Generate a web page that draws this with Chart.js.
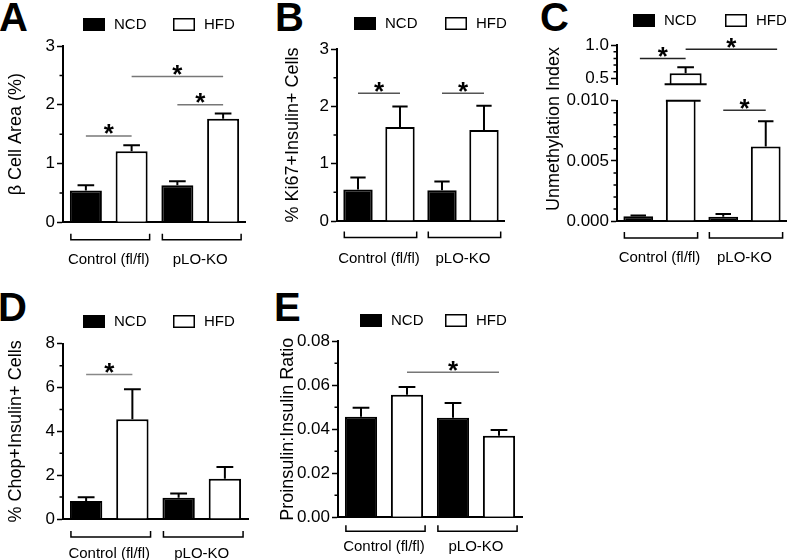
<!DOCTYPE html>
<html>
<head>
<meta charset="utf-8">
<script src="https://cdn.jsdelivr.net/npm/chart.js@4.4.1/dist/chart.umd.min.js"></script>
<style>
  body { margin: 0; background: #fff; width: 800px; height: 560px; position: relative; overflow: hidden; }
  canvas { position: absolute; }
  .letter { position: absolute; font: bold 40px "Liberation Sans", Arial, sans-serif; line-height: 1; color: #000; }
</style>
</head>
<body>
<div class="letter" style="left:-1px;top:-3px">A</div>
<div class="letter" style="left:275px;top:-3px">B</div>
<div class="letter" style="left:540px;top:-3px">C</div>
<div class="letter" style="left:-2px;top:287px">D</div>
<div class="letter" style="left:274px;top:287px">E</div>

<canvas id="chartA" width="260" height="280" style="left:0;top:0"></canvas>
<canvas id="chartB" width="260" height="280" style="left:260px;top:0"></canvas>
<canvas id="chartC" width="280" height="280" style="left:520px;top:0"></canvas>
<canvas id="chartCtop" width="280" height="130" style="left:520px;top:0"></canvas>
<canvas id="chartD" width="260" height="280" style="left:0;top:280px"></canvas>
<canvas id="chartE" width="280" height="280" style="left:260px;top:280px"></canvas>

<script>
const FONT = '"Liberation Sans", Arial, sans-serif';
Chart.defaults.font.family = FONT;
Chart.defaults.color = '#000';

const groups = ['Control (fl/fl)', 'pLO-KO'];
const seriesNames = ['NCD', 'HFD'];

// A - beta cell area (%)
const betaNCD = [0.54, 0.63];
const betaNCDsem = [0.09, 0.07];
const betaHFD = [1.21, 1.76];
const betaHFDsem = [0.10, 0.09];
const betaTicks = [0, 1, 2, 3];
const betaSig = [[0, 1, 1.47], [2, 3, 2.0], [1, 3, 2.48]];

// B - Ki67+ insulin+ cells (%)
const ki67NCD = [0.55, 0.535];
const ki67NCDsem = [0.21, 0.155];
const ki67HFD = [1.64, 1.59];
const ki67HFDsem = [0.36, 0.42];
const ki67Ticks = [0, 1, 2, 3];
const ki67Sig = [[0, 1, 2.23], [2, 3, 2.23]];

// C - unmethylation index (broken axis)
const unmethNCD = [0.0004, 0.00036];
const unmethNCDsem = [0.00005, 0.00022];
const unmethHFD = [0.578, 0.0062];
const unmethHFDsem = [0.089, 0.0021];
const unmethTicksLow = [0, 0.005, 0.010];
const unmethTicksHigh = [0.5, 1.0];
const unmethSigLow = [[2, 3, 0.0092]];
const unmethSigHigh = [[0, 1, 0.80], [1, 3, 0.936]];

// D - Chop+ insulin+ cells (%)
const chopNCD = [0.82, 0.97];
const chopNCDsem = [0.17, 0.19];
const chopHFD = [4.55, 1.84];
const chopHFDsem = [1.37, 0.53];
const chopTicks = [0, 2, 4, 6, 8];
const chopSig = [[0, 1, 6.6]];

// E - proinsulin:insulin ratio
const proinsNCD = [0.0457, 0.0453];
const proinsNCDsem = [0.0041, 0.0067];
const proinsHFD = [0.0557, 0.0371];
const proinsHFDsem = [0.0035, 0.0026];
const proinsTicks = [0, 0.02, 0.04, 0.06, 0.08];
const proinsSig = [[1, 3, 0.0659]];

// error bars, significance bars, group brackets, legend, minor ticks
const decor = {
  id: 'decor',
  afterDraw(chart, args, o) {
    const { ctx, chartArea: a } = chart;
    const y = chart.scales.y;
    const bars = [];
    chart.data.datasets.forEach((ds, di) => {
      chart.getDatasetMeta(di).data.forEach((el, gi) => { bars[gi * 2 + di] = { el, ds, i: gi }; });
    });
    ctx.save();
    ctx.strokeStyle = '#000';
    ctx.fillStyle = '#000';

    if (o.minor) {
      const majors = y.ticks.map(t => t.value);
      ctx.lineWidth = 1.5;
      ctx.beginPath();
      for (let k = Math.ceil(y.min / o.minor - 1e-6); k * o.minor <= y.max + 1e-9; k++) {
        const v = k * o.minor;
        if (majors.some(m => Math.abs(m - v) < o.minor / 10)) continue;
        const py = y.getPixelForValue(v);
        ctx.moveTo(a.left - 3.5, py);
        ctx.lineTo(a.left, py);
      }
      ctx.stroke();
    }

    // upper whiskers only, kept inside the plot
    ctx.save();
    ctx.beginPath();
    ctx.rect(a.left, a.top - 3, a.right - a.left, a.bottom - a.top + 3);
    ctx.clip();
    ctx.lineWidth = 2;
    bars.forEach(({ el, ds, i }) => {
      const y0 = y.getPixelForValue(ds.data[i]);
      const y1 = y.getPixelForValue(ds.data[i] + ds.sem[i]);
      const cap = el.width * 0.26;
      ctx.beginPath();
      ctx.moveTo(el.x, y0); ctx.lineTo(el.x, y1);
      ctx.moveTo(el.x - cap, y1); ctx.lineTo(el.x + cap, y1);
      ctx.stroke();
    });
    ctx.restore();

    if (o.breakAt) {
      const b = bars[o.breakAt.bar].el;
      const py = o.breakAt.edge === 'top' ? a.top : a.bottom;
      ctx.lineWidth = 2;
      ctx.beginPath();
      ctx.moveTo(b.x - b.width / 2 - o.breakAt.left, py);
      ctx.lineTo(b.x + b.width / 2 + o.breakAt.right, py);
      ctx.stroke();
    }

    (o.sig || []).forEach(([from, to, v]) => {
      const x0 = bars[from].el.x, x1 = bars[to].el.x, py = y.getPixelForValue(v);
      ctx.strokeStyle = o.sigColor || '#666';
      ctx.lineWidth = 1.5;
      ctx.beginPath(); ctx.moveTo(x0, py); ctx.lineTo(x1, py); ctx.stroke();
      ctx.fillStyle = '#000';
      ctx.font = 'bold 26px ' + FONT;
      ctx.textAlign = 'center';
      ctx.textBaseline = 'alphabetic';
      ctx.fillText('*', (x0 + x1) / 2, py + 6.5);
    });

    if (o.bracket) {
      ctx.strokeStyle = '#000';
      ctx.lineWidth = 1.5;
      for (let g = 0; g < groups.length; g++) {
        const l = bars[g * 2].el, r = bars[g * 2 + 1].el;
        const x0 = l.x - l.width / 2 + 1, x1 = r.x + r.width / 2 + 2, py = a.bottom + o.bracket;
        ctx.beginPath();
        ctx.moveTo(x0, py - 6); ctx.lineTo(x0, py); ctx.lineTo(x1, py); ctx.lineTo(x1, py - 6);
        ctx.stroke();
      }
    }

    if (o.legend) {
      ctx.font = '15px ' + FONT;
      ctx.textAlign = 'left';
      ctx.textBaseline = 'middle';
      chart.data.datasets.forEach((ds, di) => {
        const bx = di === 0 ? o.legend.x : o.legend.hx, by = o.legend.y;
        ctx.fillStyle = ds.backgroundColor;
        ctx.fillRect(bx, by, 22, 13);
        ctx.strokeStyle = '#000';
        ctx.lineWidth = 1.5;
        ctx.strokeRect(bx + 0.75, by + 0.75, 20.5, 11.5);
        ctx.fillStyle = '#000';
        ctx.fillText(ds.label, bx + 31, by + 7);
      });
    }

    if (o.vtitle) {
      ctx.save();
      ctx.translate(o.vtitle.x, o.vtitle.y);
      ctx.rotate(-Math.PI / 2);
      ctx.font = '18px ' + FONT;
      ctx.textAlign = 'center';
      ctx.textBaseline = 'middle';
      ctx.fillStyle = '#000';
      ctx.fillText(o.vtitle.text, 0, 0);
      ctx.restore();
    }
    ctx.restore();
  }
};

function makePanel(id, p) {
  const showX = p.showX !== false;
  return new Chart(document.getElementById(id), {
    type: 'bar',
    data: {
      labels: groups,
      datasets: [
        { label: seriesNames[0], data: p.ncd, sem: p.ncdSem, backgroundColor: '#000', borderColor: '#000',
          borderWidth: 2, categoryPercentage: 1, barPercentage: 0.7, clip: 0 },
        { label: seriesNames[1], data: p.hfd, sem: p.hfdSem, backgroundColor: '#fff', borderColor: '#000',
          borderWidth: 2, categoryPercentage: 1, barPercentage: 0.7, clip: 0 }
      ]
    },
    options: {
      responsive: false,
      animation: false,
      events: [],
      layout: { padding: { left: 0, top: p.area.top, right: p.w - p.area.right, bottom: 0 } },
      plugins: {
        legend: { display: false },
        tooltip: { enabled: false },
        decor: { minor: p.minor, sig: p.sig, sigColor: p.sigColor, bracket: p.bracket,
                 legend: p.legend, vtitle: p.vtitle, breakAt: p.breakAt }
      },
      scales: {
        x: {
          grid: { display: showX, drawOnChartArea: false, drawTicks: false },
          border: { display: showX, color: '#000', width: 2 },
          ticks: { display: showX, color: '#000', font: { size: 15 }, padding: p.labelPad || 0 },
          afterFit: s => { s.height = p.h - p.area.bottom; }
        },
        y: {
          min: p.min,
          max: p.max,
          afterBuildTicks: s => { s.ticks = p.ticks.map(v => ({ value: v })); },
          grid: { display: true, drawOnChartArea: false, drawTicks: true, tickLength: 6, tickColor: '#000', tickWidth: 1.5 },
          border: { display: true, color: '#000', width: 2 },
          ticks: { color: '#000', font: { size: 17 }, padding: 2, callback: v => Number(v).toFixed(p.dec) },
          title: { display: !!p.title, text: p.title, color: '#000', font: { size: 18 }, padding: { top: p.titlePad || 0, bottom: 0 } },
          afterFit: s => { s.width = p.area.left; }
        }
      }
    },
    plugins: [decor]
  });
}

makePanel('chartA', {
  w: 260, h: 280, area: { left: 63, right: 247, top: 46, bottom: 222.3 },
  ncd: betaNCD, ncdSem: betaNCDsem, hfd: betaHFD, hfdSem: betaHFDsem,
  min: 0, max: 3, ticks: betaTicks, minor: 0.5, dec: 0,
  title: 'β Cell Area (%)', titlePad: 5, labelPad: 29, bracket: 17.5,
  sig: betaSig, sigColor: '#777', legend: { x: 83, y: 18, hx: 173 }
});

makePanel('chartB', {
  w: 260, h: 280, area: { left: 77, right: 258, top: 49.1, bottom: 221 },
  ncd: ki67NCD, ncdSem: ki67NCDsem, hfd: ki67HFD, hfdSem: ki67HFDsem,
  min: 0, max: 3, ticks: ki67Ticks, minor: 0.5, dec: 0,
  title: '% Ki67+Insulin+ Cells', titlePad: 22, labelPad: 29, bracket: 16.5,
  sig: ki67Sig, sigColor: '#555', legend: { x: 94, y: 17, hx: 185 }
});

makePanel('chartC', {
  w: 280, h: 280, area: { left: 97, right: 280, top: 100.7, bottom: 221 },
  ncd: unmethNCD, ncdSem: unmethNCDsem, hfd: unmethHFD, hfdSem: unmethHFDsem,
  min: 0, max: 0.010, ticks: unmethTicksLow, minor: 0.001, dec: 3,
  labelPad: 28, bracket: 17, sig: unmethSigLow, sigColor: '#333',
  legend: { x: 113, y: 14, hx: 205 },
  vtitle: { text: 'Unmethylation Index', x: 34, y: 129 },
  breakAt: { bar: 1, edge: 'top', left: 0, right: 5 }
});

makePanel('chartCtop', {
  w: 280, h: 130, area: { left: 97, right: 280, top: 45, bottom: 84.3 }, showX: false,
  ncd: unmethNCD, ncdSem: unmethNCDsem, hfd: unmethHFD, hfdSem: unmethHFDsem,
  min: 0.413, max: 1.0, ticks: unmethTicksHigh, minor: 0.1, dec: 1,
  sig: unmethSigHigh, sigColor: '#222',
  breakAt: { bar: 1, edge: 'bottom', left: 5, right: 5 }
});

makePanel('chartD', {
  w: 260, h: 280, area: { left: 63, right: 248, top: 63.8, bottom: 239 },
  ncd: chopNCD, ncdSem: chopNCDsem, hfd: chopHFD, hfdSem: chopHFDsem,
  min: 0, max: 8, ticks: chopTicks, minor: 1, dec: 0,
  title: '% Chop+Insulin+ Cells', titlePad: 5, labelPad: 26, bracket: 18,
  sig: chopSig, sigColor: '#888', legend: { x: 83, y: 35, hx: 173 }
});

makePanel('chartE', {
  w: 280, h: 280, area: { left: 78, right: 262, top: 61.3, bottom: 237.3 },
  ncd: proinsNCD, ncdSem: proinsNCDsem, hfd: proinsHFD, hfdSem: proinsHFDsem,
  min: 0, max: 0.08, ticks: proinsTicks, minor: 0.01, dec: 2,
  title: 'Proinsulin:Insulin Ratio', titlePad: 17, labelPad: 21, bracket: 14,
  sig: proinsSig, sigColor: '#777', legend: { x: 100, y: 34, hx: 185 }
});
</script>
</body>
</html>
